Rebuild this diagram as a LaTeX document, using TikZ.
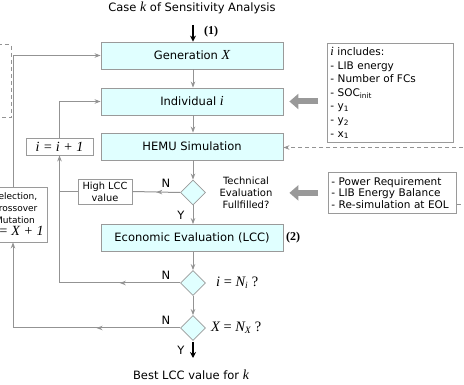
\documentclass[tikz,border=0pt]{standalone}
\usepackage{fontspec}
\setmainfont{DejaVu Sans}
\newfontfamily\tms[Scale=1.2]{Liberation Serif}
\usetikzlibrary{shapes.geometric,arrows.meta,decorations.markings}
\newcommand{\mi}[1]{{\tms\itshape #1}}
\definecolor{boxfill}{HTML}{E0FFFF}
\definecolor{lgray}{HTML}{9A9A9A}
\definecolor{agray}{HTML}{939393}
\definecolor{tgray}{HTML}{999999}
\tikzset{
  mainbox/.style={draw=lgray, fill=boxfill, line width=0.8pt, minimum width=182pt, minimum height=27pt, inner sep=0pt, font=\fontsize{11.5}{13}\selectfont},
  smallbox/.style={draw=lgray, fill=white, line width=0.8pt, inner sep=1pt, align=center},
  dia/.style={diamond, draw=lgray, fill=boxfill, line width=0.8pt, minimum width=25pt, minimum height=25pt, inner sep=0pt},
  gline/.style={draw=agray, line width=1pt},
  garrow/.style={gline, -{Stealth[length=6pt,width=4.5pt]}},
  gdash/.style={draw=agray, line width=1pt, dash pattern=on 4pt off 3pt},
  midarrow/.style={gline, postaction={decorate}, decoration={markings, mark=at position 0.5 with {\arrow{Stealth[length=6pt,width=4.5pt]}}}},
  blackarrow/.style={draw=black, line width=1.4pt, -{Stealth[length=6pt,width=6pt]}},
  thickarrow/.style={draw=tgray, line width=6pt, -{Triangle[length=9pt,width=15pt]}},
  lbl/.style={font=\fontsize{11.5}{13}\selectfont, inner sep=0pt},
  serif/.style={font=\tms\fontsize{12}{14}\selectfont, inner sep=0pt},
}
\begin{document}
\begin{tikzpicture}[x=1pt,y=-1pt]
\useasboundingbox (0,0) rectangle (464,385);
\clip (0,0) rectangle (464,385);

% title
\node[lbl] (title) at (192,8) {Case \mi{k} of Sensitivity Analysis};
\coordinate (top) at (193,25);
\node[font=\tms\bfseries\fontsize{10}{12}\selectfont, inner sep=0pt] (one) at (211,32) {(1)};

% main column
\node[mainbox] (gen) at (192,55.5) {Generation \mi{X}};
\node[mainbox] (ind) at (192,101.5) {Individual \mi{i}};
\node[mainbox] (hemu) at (192,146.5) {HEMU Simulation};
\node[dia] (tech) at (193,192.5) {};
\node[lbl, align=center, font=\fontsize{10}{12}\selectfont] (techtxt) at (246,192.5) {Technical\\Evaluation\\Fullfilled?};
\node[mainbox] (econ) at (192,238) {Economic Evaluation (LCC)};
\node[font=\tms\bfseries\fontsize{10}{12}\selectfont, inner sep=0pt] (two) at (293,238) {(2)};
\node[dia] (idia) at (193,283) {};
\node[serif, anchor=west] (itxt) at (216,283) {\mi{i} = \mi{N}\textsubscript{\itshape i} ?};
\node[dia] (xdia) at (193,328) {};
\node[serif, anchor=west] (xtxt) at (211,328) {\mi{X} = \mi{N}\textsubscript{\itshape X} ?};
\coordinate (bot) at (193,358);
\node[lbl] (best) at (191,375) {Best LCC value for \mi{k}};

% left boxes
\node[smallbox, minimum width=67pt, minimum height=17pt, font=\tms\itshape\fontsize{11.7}{13}\selectfont] (iinc) at (59.5,146.5) {i = i + 1};
\node[smallbox, minimum width=54pt, minimum height=25pt, font=\fontsize{9.8}{12}\selectfont] (hlcc) at (105,191.5) {High LCC\\value};
\node[smallbox, minimum width=64pt, minimum height=55pt, font=\fontsize{9}{12}\selectfont] (sel) at (15,214.5) {Selection,\\Crossover\\Mutation\\{\tms\itshape\fontsize{11.7}{12}\selectfont X = X + 1}};
\draw[gdash] (-30,45) -- (11,45) -- (11,118) -- (-30,118);

% right boxes
\node[draw=lgray, line width=0.8pt, anchor=north west, text width=120pt, minimum height=99pt, inner xsep=3pt, inner ysep=1pt, align=left, font=\fontsize{10.5}{13.6}\selectfont] (incl) at (327,43)
 {\mi{i} includes:\\- LIB energy\\- Number of FCs\\- SOC\textsubscript{init}\\- y\textsubscript{1}\\- y\textsubscript{2}\\- x\textsubscript{1}};
\node[draw=lgray, line width=0.8pt, anchor=north west, text width=122pt, minimum height=41pt, inner xsep=3pt, inner ysep=1pt, align=left, font=\fontsize{10.5}{11.6}\selectfont] (req) at (328,172)
 {- Power Requirement\\- LIB Energy Balance\\- Re-simulation at EOL};
\coordinate (rin) at (470,147.5);
\coordinate (rout) at (470,205);

% connectors main column
\draw[blackarrow] (top) -- (gen.north -| top);
\draw[garrow] (gen.south -| top) -- (ind.north -| top);
\draw[garrow] (ind.south -| top) -- (hemu.north -| top);
\draw[garrow] (hemu.south -| top) -- (tech.north);
\draw[garrow] (tech.south) -- (econ.north -| tech.south);
\draw[garrow] (econ.south -| idia.north) -- (idia.north);
\draw[garrow] (idia.south) -- (xdia.north);
\draw[blackarrow] (xdia.south) ++(0,1) -- (bot);

\node[lbl] (n1) at (166,183) {N};
\node[lbl] (y1) at (181,215) {Y};
\node[lbl] (n2) at (166,275) {N};
\node[lbl] (n3) at (166,320) {N};
\node[lbl] (y3) at (181,350) {Y};

% technical N branch
\draw[midarrow] (tech.west) -- (hlcc.east);
\draw[gline] (hlcc.west) -- (hlcc.west -| iinc.south);
% i loop
\draw[midarrow] (idia.west) -- (idia.west -| iinc.south);
\draw[garrow] (idia.west -| iinc.south) -- (iinc.south);
\draw[garrow] (iinc.north) |- (ind.west);
% X loop
\draw[midarrow] (xdia.west) -- (xdia.west -| 13,0);
\draw[garrow] (xdia.west -| 13,0) -- (sel.south -| 13,0);
\draw[garrow] (sel.north -| 13,0) |- (gen.west);

% right side arrows
\draw[thickarrow, shorten <=9pt, shorten >=6pt] (incl.west |- ind.east) -- (ind.east);
\draw[thickarrow, shorten <=10pt, shorten >=6pt] (req.west) -- (req.west -| ind.east);
\draw[gdash, -{Stealth[length=6pt,width=4.5pt]}] (rin) -- (hemu.east |- rin);
\draw[gdash] (req.east |- rout) -- (rout);
\end{tikzpicture}
\end{document}
